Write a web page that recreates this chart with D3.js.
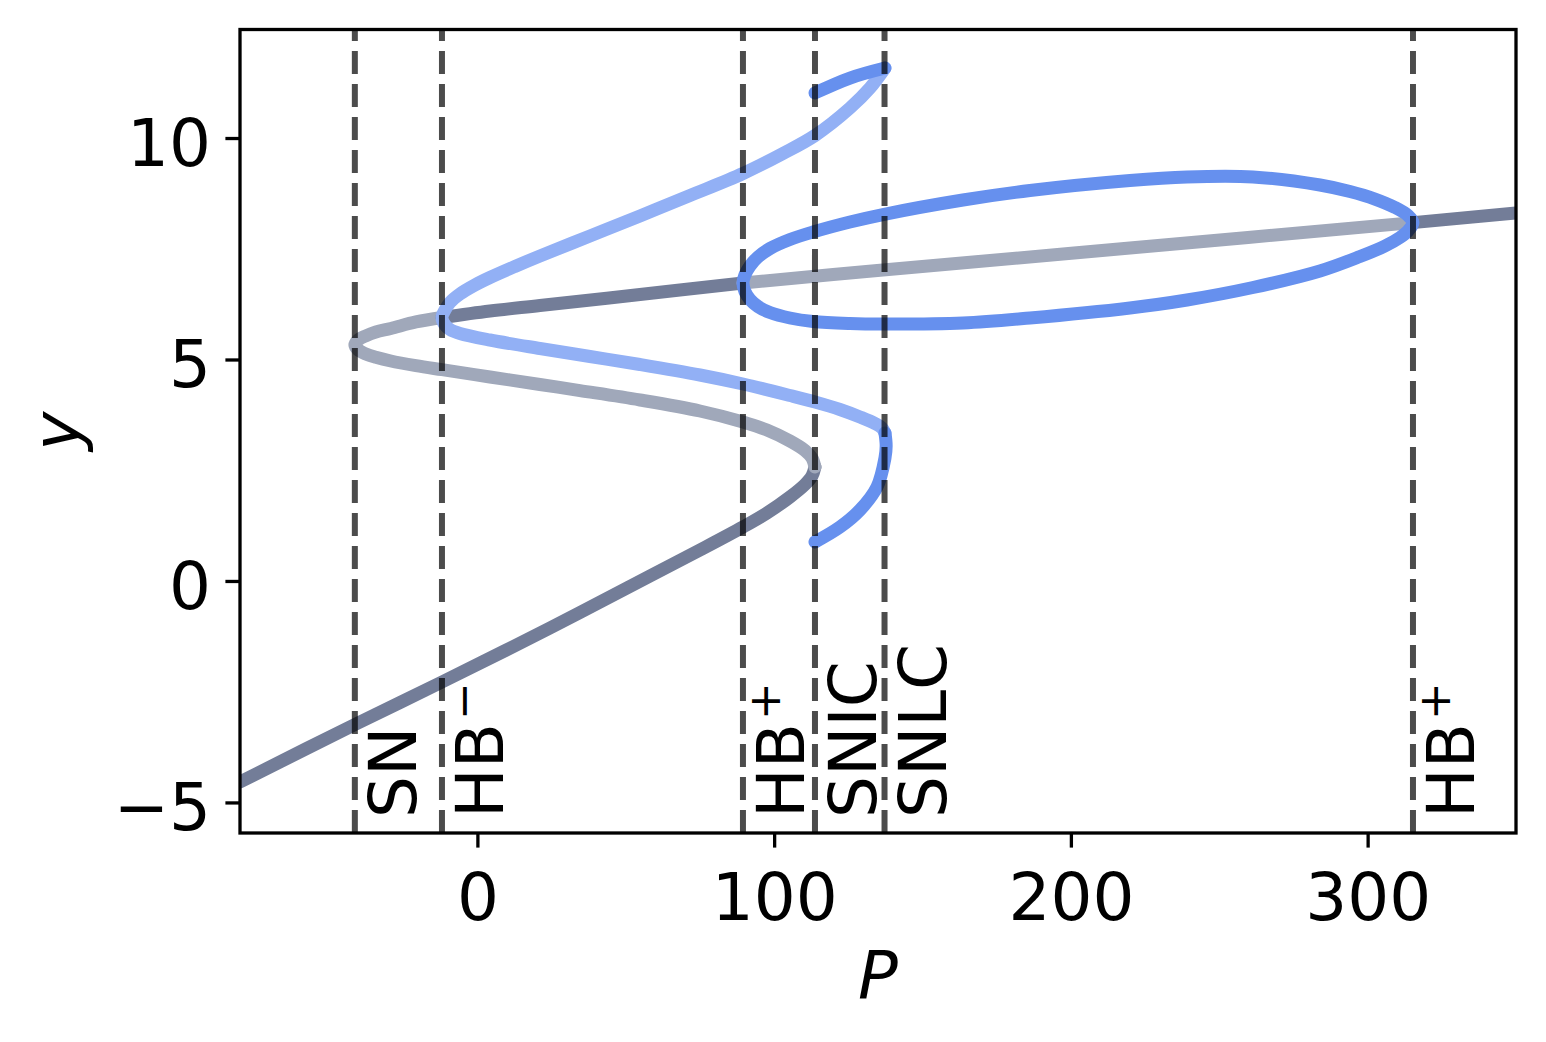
<!DOCTYPE html>
<html>
<head>
<meta charset="utf-8">
<script src="https://cdn.jsdelivr.net/npm/d3@7"></script>
<style>
  html, body { margin: 0; padding: 0; background: #fff; }
  svg { display: block; font-family: "DejaVu Sans", sans-serif; }
</style>
</head>
<body>
<svg id="chart" width="1546" height="1042"></svg>
<script>
// ---- data ----
const xTicks = [0, 100, 200, 300];
const yTicks = [-5, 0, 5, 10];

const bifP = [-41.3, -11.94, 89.49, 113.76, 137.2, 315.28];
const bifNames = ["SN", "HB", "HB", "SNIC", "SNLC", "HB"];
const bifSups = ["", "\u2212", "+", "", "", "+"];

// steady states
const ssLowP = [-80, -41.28, -11.94, 24.45, 58.15, 75.0, 89.49, 97.58, 105.33, 110.39, 112.75, 113.76];
const ssLowY = [-4.539, -3.24, -2.281, -1.062, 0.112, 0.699, 1.218, 1.534, 1.896, 2.178, 2.37, 2.573];

const ssMidP = [113.76, 112.75, 110.39, 105.33, 97.58, 89.49, 75.0, 54.78, 34.56, 21.08, 4.23, -11.94,
                -20.71, -29.16, -34.21, -37.58, -40.27, -41.28, -40.27, -37.58, -34.21, -29.16, -20.71, -11.94];
const ssMidY = [2.573, 2.776, 2.946, 3.16, 3.408, 3.589, 3.837, 4.086, 4.298, 4.436, 4.605, 4.77,
                4.862, 4.966, 5.05, 5.124, 5.223, 5.327, 5.436, 5.535, 5.621, 5.7, 5.847, 5.948];

const ssUpP = [-11.94, 4.23, 21.08, 54.78, 89.49];
const ssUpY = [5.948, 6.095, 6.219, 6.467, 6.727];

const ssUpUnstP = [89.49, 136.67, 219.91, 315.28];
const ssUpUnstY = [6.727, 7.02, 7.517, 8.09];

const ssRightP = [315.28, 350];
const ssRightY = [8.09, 8.307];

// stable periodic orbit between the two HB+ points: max (left to right), min (right to left)
const pmaxP = [89.49, 90.16, 91.85, 94.55, 98.59, 105.33, 113.08, 125.55, 136.67, 163.63, 186.21, 219.91,
               239.12, 261.36, 283.94, 294.05, 302.47, 309.21, 313.59, 315.28];
const pmaxY = [6.727, 6.908, 7.111, 7.314, 7.506, 7.709, 7.878, 8.104, 8.273, 8.601, 8.815, 9.041,
               9.12, 9.12, 8.94, 8.793, 8.623, 8.432, 8.251, 8.09];
const pminP = [313.59, 310.9, 305.84, 297.42, 283.94, 261.36, 239.12, 219.91, 186.21, 163.63, 136.67,
               125.55, 113.08, 105.33, 98.59, 94.55, 91.85, 90.16];
const pminY = [7.901, 7.754, 7.562, 7.325, 6.998, 6.625, 6.343, 6.163, 5.937, 5.824, 5.801,
               5.813, 5.858, 5.937, 6.061, 6.196, 6.354, 6.535];

// unstable periodic orbit from HB-
const umaxP = [-11.94, -10.93, -9.25, -5.88, -0.83, 4.23, 12.65, 21.08, 37.93, 54.78, 71.63, 89.49,
               102.97, 113.76, 125.55, 132.29, 137.35];
const umaxY = [5.948, 6.117, 6.287, 6.479, 6.682, 6.851, 7.1, 7.337, 7.788, 8.24, 8.702, 9.199,
               9.651, 10.057, 10.678, 11.129, 11.581];
const uminP = [-10.93, -9.25, -5.88, 4.23, 21.08, 37.93, 54.78, 75.0, 89.49, 105.33, 113.76, 122.18,
               128.92, 133.97, 136.33, 137.35];
const uminY = [5.779, 5.677, 5.587, 5.44, 5.248, 5.068, 4.887, 4.65, 4.447, 4.187, 4.04, 3.871,
               3.702, 3.555, 3.453, 3.341];

// stable periodic orbit between SNLC and SNIC
const smaxP = [137.35, 125.55, 113.76];
const smaxY = [11.581, 11.355, 11.017];
const sminP = [137.35, 137.75, 137.35, 134.65, 128.92, 122.18, 113.76];
const sminY = [3.341, 3.047, 2.776, 2.121, 1.602, 1.218, 0.88];

// ---- layout ----
const mLeft = 240, mRight = 1516, mTop = 29.5, mBottom = 833;
const fontSize = 66;

const svg = d3.select("#chart");

const x = d3.scaleLinear().domain([-80, 350]).range([mLeft, mRight]);
const y = d3.scaleLinear().domain([-5.69, 12.45]).range([mBottom, mTop]);

const zip = (ps, ys) => ps.map((p, i) => [p, ys[i]]);

svg.append("defs").append("clipPath").attr("id", "clip")
  .append("rect").attr("x", mLeft).attr("y", mTop)
  .attr("width", mRight - mLeft).attr("height", mBottom - mTop);

const plot = svg.append("g").attr("clip-path", "url(#clip)");

const line = d3.line()
  .x(d => x(d[0]))
  .y(d => y(d[1]))
  .curve(d3.curveCatmullRom.alpha(0.5));

const closedLine = d3.line()
  .x(d => x(d[0]))
  .y(d => y(d[1]))
  .curve(d3.curveCatmullRomClosed.alpha(0.5));

const colSsStable = "#737d98",
  colSsUnstable = "#a0a8ba",
  colOrbStable = "#6690ee",
  colOrbUnstable = "#92b0f5";

const curveWidth = 13;

function drawPath(pts, color, gen = line) {
  plot.append("path")
    .attr("d", gen(pts))
    .attr("fill", "none")
    .attr("stroke", color)
    .attr("stroke-width", curveWidth)
    .attr("stroke-linecap", "round")
    .attr("stroke-linejoin", "round");
}

// steady state branches
drawPath(zip(ssLowP, ssLowY), colSsStable);
drawPath(zip(ssMidP, ssMidY), colSsUnstable);
drawPath(zip(ssUpP, ssUpY), colSsStable);
drawPath(zip(ssUpUnstP, ssUpUnstY), colSsUnstable);
drawPath(zip(ssRightP, ssRightY), colSsStable);

// unstable orbit (max reversed, then min)
drawPath(zip(umaxP, umaxY).reverse().concat(zip(uminP, uminY)), colOrbUnstable);

// stable orbit between the HB+ points
drawPath(zip(pmaxP, pmaxY).concat(zip(pminP, pminY)), colOrbStable, closedLine);

// stable orbit SNLC -> SNIC
drawPath(zip(smaxP, smaxY), colOrbStable);
drawPath(zip(sminP, sminY), colOrbStable);

// bifurcation lines
plot.selectAll("line.bif")
  .data(bifP)
  .join("line")
  .attr("class", "bif")
  .attr("x1", d => x(d)).attr("x2", d => x(d))
  .attr("y1", mBottom).attr("y2", mTop)
  .attr("stroke", "#000")
  .attr("stroke-opacity", 0.7)
  .attr("stroke-width", 6)
  .attr("stroke-dasharray", "23,10");

// bifurcation labels
const labels = svg.selectAll("text.bif")
  .data(bifP)
  .join("text")
  .attr("class", "bif")
  .attr("transform", d => `translate(${x(d) + 61},818) rotate(-90)`)
  .attr("font-size", fontSize)
  .attr("fill", "#000");
labels.append("tspan").text((d, i) => bifNames[i]);
labels.append("tspan")
  .attr("dx", 3)
  .attr("dy", -24)
  .attr("font-size", 45)
  .text((d, i) => bifSups[i]);

// axes
const xAxis = svg.append("g")
  .attr("transform", `translate(0,${mBottom})`)
  .call(d3.axisBottom(x).tickValues(xTicks).tickSize(14.6).tickPadding(14));
xAxis.selectAll("text").attr("y", 87).attr("dy", null);

const yAxis = svg.append("g")
  .attr("transform", `translate(${mLeft},0)`)
  .call(d3.axisLeft(y).tickValues(yTicks).tickSize(14.6).tickPadding(14));
yAxis.selectAll("text").attr("x", -29).attr("dy", "0.41em");

[xAxis, yAxis].forEach(g => {
  g.select(".domain").remove();
  g.selectAll("line").attr("stroke", "#000").attr("stroke-width", 3.3);
  g.selectAll("text")
    .attr("fill", "#000")
    .attr("font-size", fontSize)
    .attr("font-family", "DejaVu Sans");
});

svg.append("rect")
  .attr("x", mLeft).attr("y", mTop)
  .attr("width", mRight - mLeft).attr("height", mBottom - mTop)
  .attr("fill", "none")
  .attr("stroke", "#000")
  .attr("stroke-width", 3.3);

// axis titles
svg.append("text")
  .attr("x", (mLeft + mRight) / 2)
  .attr("y", 998)
  .attr("text-anchor", "middle")
  .attr("font-size", fontSize)
  .attr("font-style", "italic")
  .text("P");

svg.append("text")
  .attr("transform", `translate(79,${(mTop + mBottom) / 2}) rotate(-90)`)
  .attr("text-anchor", "middle")
  .attr("font-size", fontSize)
  .attr("font-style", "italic")
  .text("y");
</script>
</body>
</html>
